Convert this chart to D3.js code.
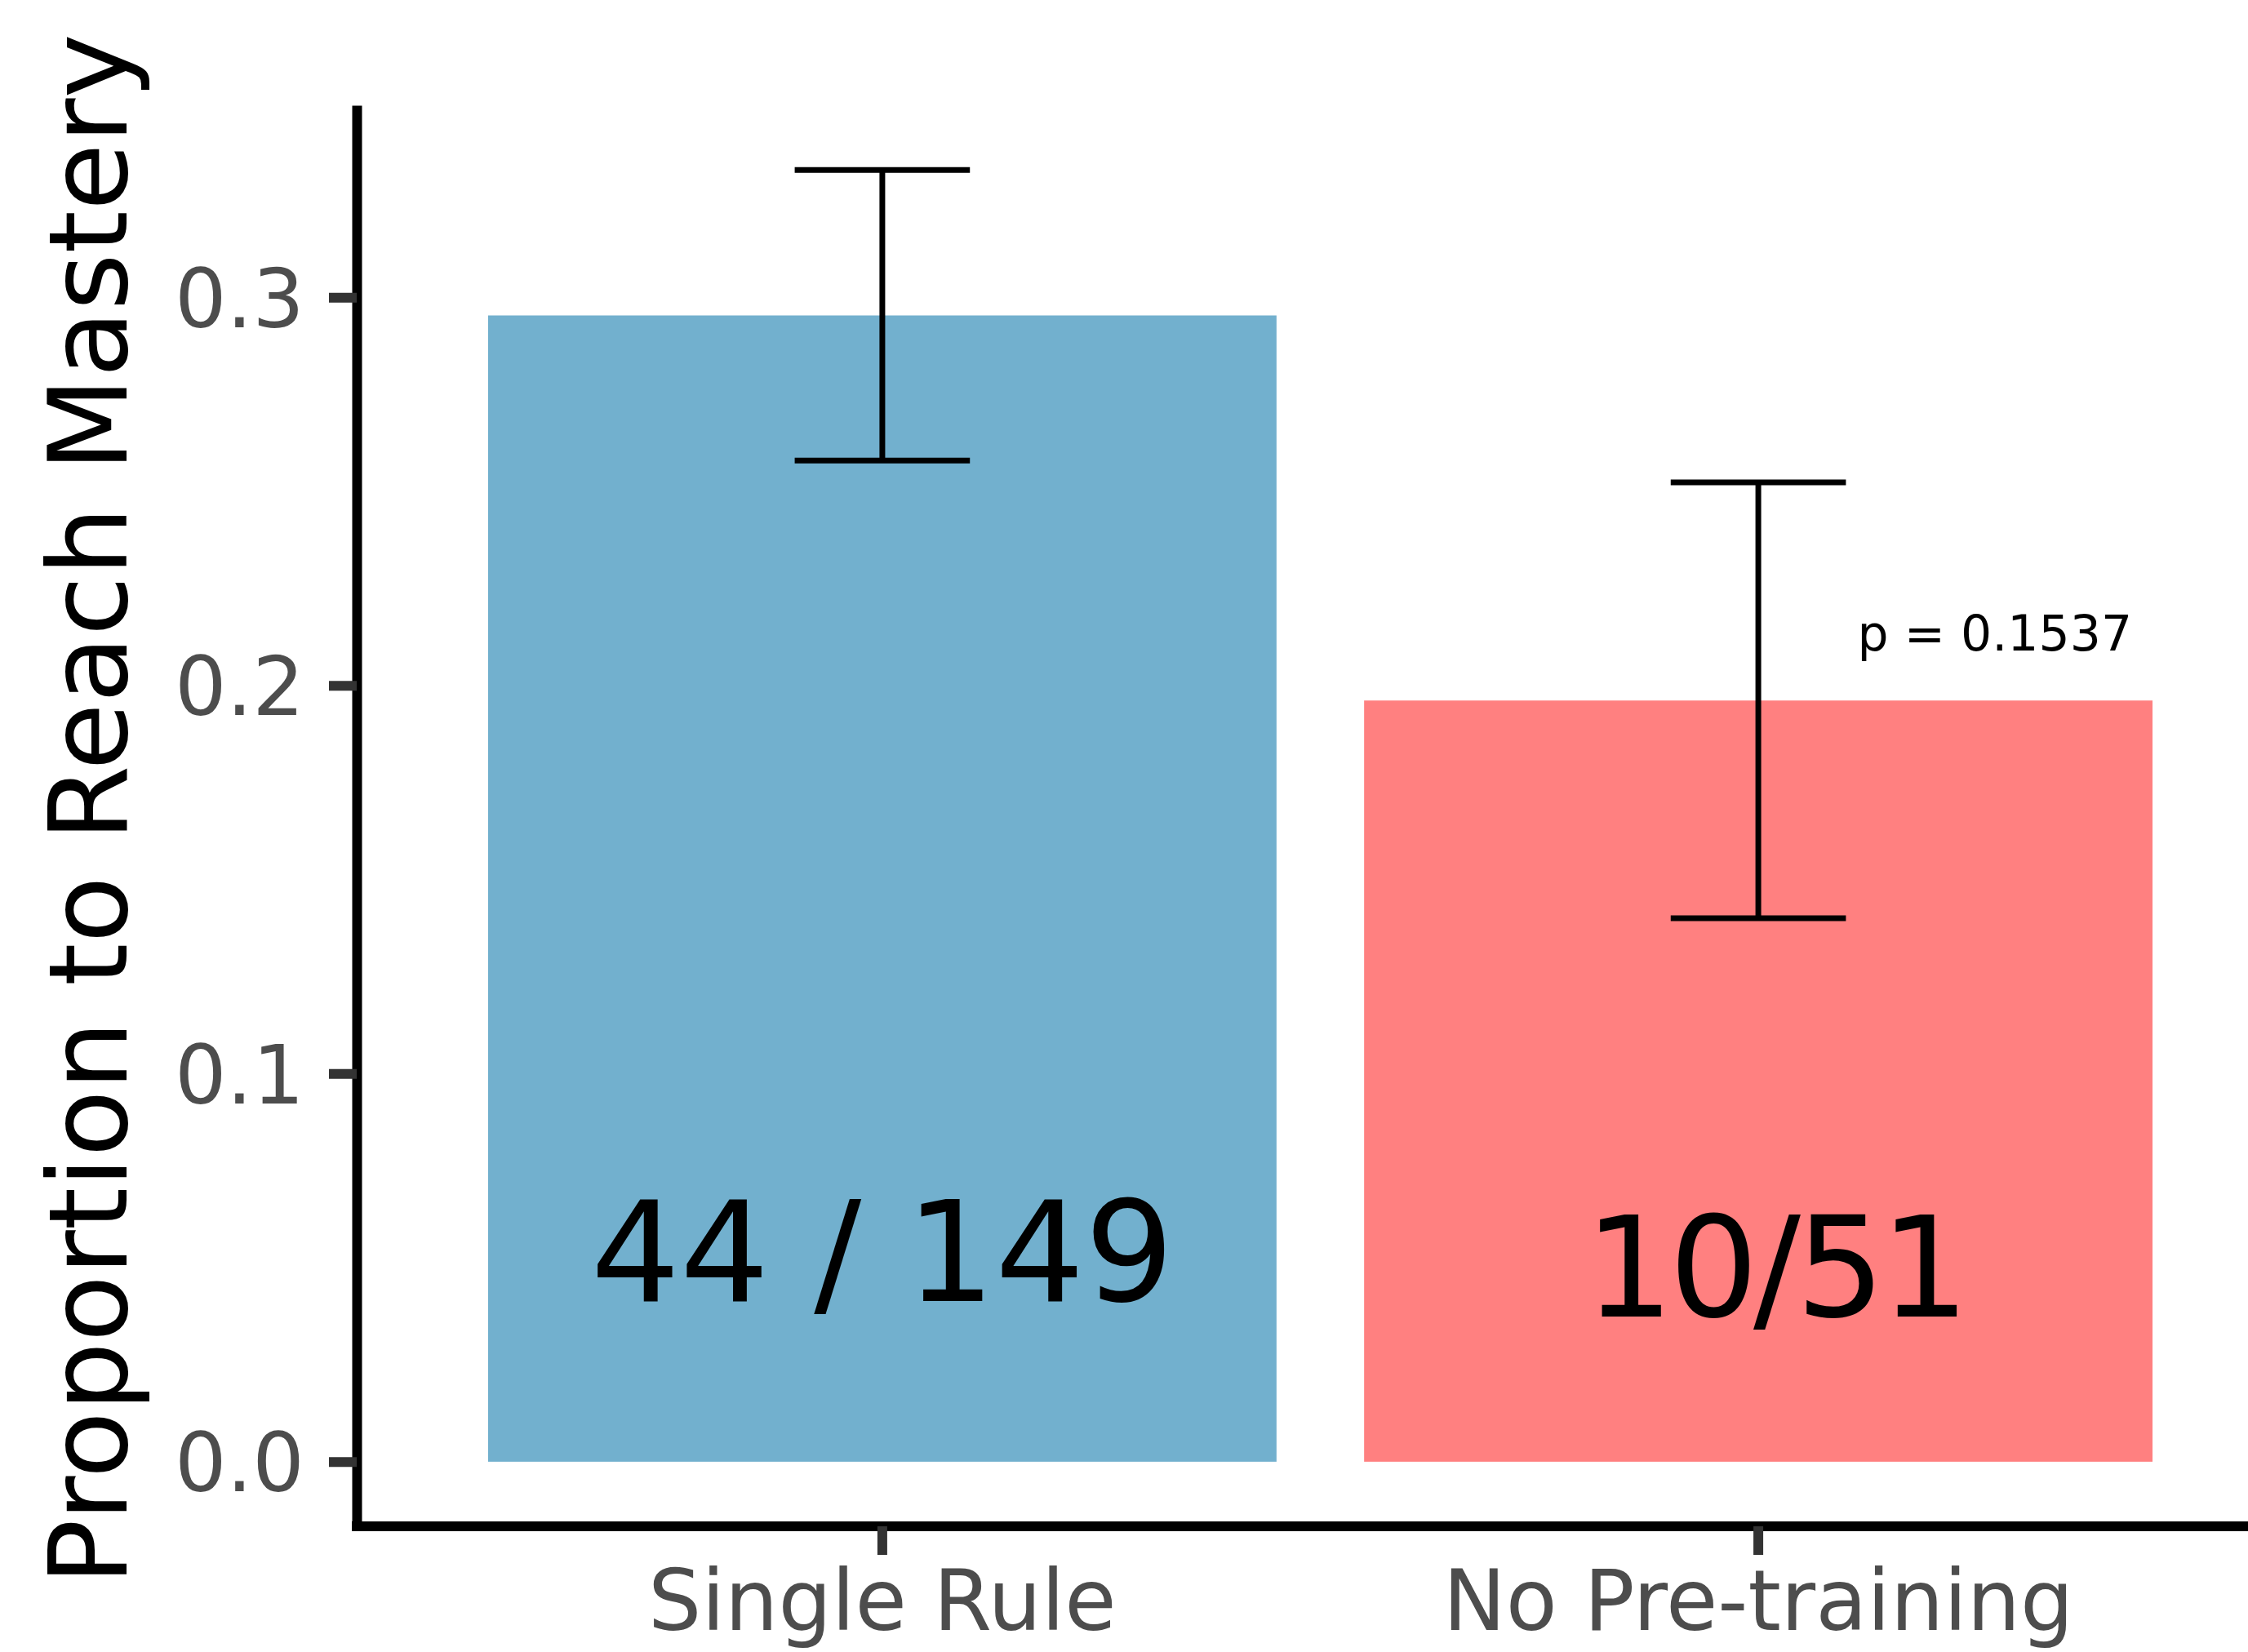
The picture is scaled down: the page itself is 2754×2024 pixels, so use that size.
<!DOCTYPE html>
<html>
<head>
<meta charset="utf-8">
<script src="https://d3js.org/d3.v7.min.js"></script>
<style>
    body { margin: 0; background: #fff; }
    svg { display: block; font-family: "DejaVu Sans", sans-serif; }
</style>
</head>
<body>
<svg id="chart" width="2754" height="2024"></svg>
<script>
// Data
const categories = ['Single Rule', 'No Pre-training'];
const proportions = [0.2953, 0.1961];
const errLow = [0.2579, 0.1400];
const errHigh = [0.3328, 0.2523];
const countLabels = ['44 / 149', '10/51'];
const barColors = ['#72B0CE', '#FF8080'];
const yTicks = [0.0, 0.1, 0.2, 0.3];
const pLabel = 'p = 0.1537';

const svg = d3.select('#chart');

// Panel bounds (ggplot-like, panel runs off the right edge)
const panelLeft = 437, panelRight = 2798, panelTop = 129, panelBottom = 1870;

const x = d3.scaleBand()
    .domain(categories)
    .range([panelLeft, panelRight])
    .paddingInner(0.1)
    .paddingOuter(0.15);

// 5% expansion of the data range like ggplot
const yMax = d3.max(errHigh), yMin = 0;
const pad = (yMax - yMin) * 0.05;
const y = d3.scaleLinear()
    .domain([yMin - pad, yMax + pad])
    .range([panelBottom, panelTop]);

const rows = categories.map((c, i) => ({
    cat: c, value: proportions[i], lo: errLow[i], hi: errHigh[i],
    label: countLabels[i], color: barColors[i]
}));

// Bars
svg.append('g')
    .selectAll('rect')
    .data(rows)
    .join('rect')
    .attr('x', d => x(d.cat))
    .attr('width', x.bandwidth())
    .attr('y', d => y(d.value))
    .attr('height', d => y(0) - y(d.value))
    .attr('fill', d => d.color);

// Error bars
const capHalf = x.step() * 0.1;
const eb = svg.append('g')
    .attr('stroke', '#000')
    .attr('stroke-width', 7)
    .selectAll('g')
    .data(rows)
    .join('g');

eb.append('line')
    .attr('x1', d => x(d.cat) + x.bandwidth() / 2)
    .attr('x2', d => x(d.cat) + x.bandwidth() / 2)
    .attr('y1', d => y(d.lo))
    .attr('y2', d => y(d.hi));

eb.selectAll('line.cap')
    .data(d => [[d.cat, d.lo], [d.cat, d.hi]])
    .join('line')
    .attr('class', 'cap')
    .attr('x1', d => x(d[0]) + x.bandwidth() / 2 - capHalf)
    .attr('x2', d => x(d[0]) + x.bandwidth() / 2 + capHalf)
    .attr('y1', d => y(d[1]))
    .attr('y2', d => y(d[1]));

// Count labels inside bars
const labelY = [0.0414, 0.0374];
const labelDx = [0, 20];
svg.append('g')
    .selectAll('text')
    .data(rows)
    .join('text')
    .attr('x', (d, i) => x(d.cat) + x.bandwidth() / 2 + labelDx[i])
    .attr('y', (d, i) => y(labelY[i]))
    .attr('text-anchor', 'middle')
    .attr('font-size', 172)
    .attr('letter-spacing', (d, i) => i === 1 ? -6 : 0)
    .attr('fill', '#000')
    .text(d => d.label);

// p-value annotation
svg.append('text')
    .attr('x', x(categories[1]) + x.bandwidth() / 2 + x.step() * 0.27)
    .attr('y', y(0.209))
    .attr('text-anchor', 'middle')
    .attr('font-size', 60)
    .attr('fill', '#000')
    .text(pLabel);

// Y axis
const yAxis = svg.append('g')
    .attr('transform', `translate(${panelLeft},0)`)
    .call(d3.axisLeft(y).tickValues(yTicks).tickFormat(d3.format('.1f'))
        .tickSize(34).tickSizeOuter(0).tickPadding(30));
yAxis.select('.domain').attr('stroke', '#000').attr('stroke-width', 12);
yAxis.selectAll('.tick line').attr('stroke', '#333333').attr('stroke-width', 12);
yAxis.selectAll('.tick text')
    .attr('fill', '#4D4D4D')
    .attr('font-size', 100)
    .attr('font-family', '"DejaVu Sans", sans-serif')
    .attr('dy', '0.36em');

// X axis
const xAxis = svg.append('g')
    .attr('transform', `translate(0,${panelBottom})`)
    .call(d3.axisBottom(x).tickSize(35).tickSizeOuter(0).tickPadding(0));
xAxis.select('.domain')
    .attr('d', `M${panelLeft - 6},0H${panelRight}`)
    .attr('stroke', '#000').attr('stroke-width', 12);
xAxis.selectAll('.tick line').attr('stroke', '#333333').attr('stroke-width', 12);
xAxis.selectAll('.tick text')
    .attr('fill', '#4D4D4D')
    .attr('font-size', 103)
    .attr('font-family', '"DejaVu Sans", sans-serif')
    .attr('y', 127)
    .attr('dy', 0);

// Y axis title
svg.append('text')
    .attr('transform', `translate(155,${(panelTop + panelBottom) / 2 - 8}) rotate(-90)`)
    .attr('text-anchor', 'middle')
    .attr('font-size', 134)
    .attr('fill', '#000')
    .text('Proportion to Reach Mastery');
</script>
</body>
</html>
